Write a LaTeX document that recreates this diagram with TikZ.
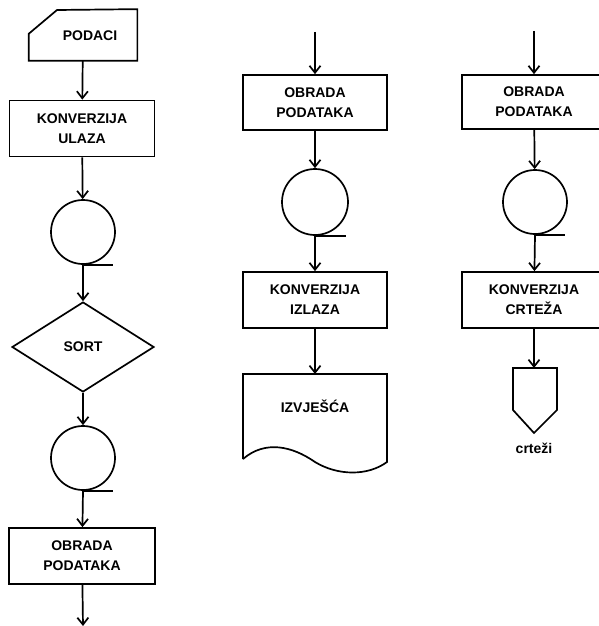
\documentclass[tikz,border=0pt]{standalone}
\usepackage{fontspec}
\setmainfont{Liberation Sans}
\usetikzlibrary{arrows.meta,shapes.geometric}

\tikzset{
  box/.style={draw, rectangle, minimum width=144pt, minimum height=56pt, align=center, inner sep=0pt},
  tape/.style={draw, circle, minimum size=64pt, inner sep=0pt},
  plain/.style={inner sep=0pt, align=center}
}

\begin{document}
\begin{tikzpicture}[x=1pt, y=-1pt, line width=1.7pt,
    >={Straight Barb[length=7pt, width=11pt]},
    font=\fontsize{14}{20}\selectfont\bfseries]
            \useasboundingbox (0,0) rectangle (599,626);

            % First column: input, sort, processing
            \node[plain, minimum width=107pt, minimum height=50pt] (podaci) at (83,35) {};
            \draw (podaci.south west) -- ++(0,-27) -- (57,10) -- (podaci.north east) -- (podaci.south east) -- cycle;
            \node[plain] (podacitxt) at (90,35.5) {PODACI};
            \node[box, minimum width=145pt] (konvul) at (82,128.5) {KONVERZIJA\\ULAZA};
            \node[tape] (trak1) at (83,232) {};
            \node[draw, diamond, minimum width=142pt, minimum height=90pt, inner sep=0pt] (sort) at (83,347) {SORT};
            \node[tape] (trak2) at (83,458) {};
            \node[box, minimum width=146pt] (obrada1) at (82,556) {OBRADA\\PODATAKA};
            \coordinate (kraj1) at (83,626);

            \draw[->] (podaci) -- (konvul);
            \draw[->] (konvul) -- (trak1);
            \draw (trak1.south) -- ++(30,0);
            \draw[->] (trak1.south) -- (sort);
            \draw[->] (sort) -- (trak2);
            \draw (trak2.south) -- ++(30,0);
            \draw[->] (trak2.south) -- (obrada1);
            \draw[->] (obrada1) -- (kraj1);

            % Second column: output report
            \coordinate (poc2) at (315,32);
            \node[box, minimum height=55pt] (obrada2) at (315,102.5) {OBRADA\\PODATAKA};
            \node[tape, minimum size=66pt] (trak3) at (315,202) {};
            \node[box] (konviz) at (315,300) {KONVERZIJA\\IZLAZA};
            \coordinate (izvtop) at (315,374);
            \draw (243,459) -- (243,374) -- (387,374) -- (387,462)
                  .. controls (368,476) and (338,476) .. (315,462)
                  .. controls (292,446) and (265,440) .. (243,459);
            \node[plain] (izvj) at (315,406) {IZVJEŠĆA};

            \draw[->] (poc2) -- (obrada2);
            \draw[->] (obrada2) -- (trak3);
            \draw (trak3.south) -- ++(31,0);
            \draw[->] (trak3.south) -- (konviz);
            \draw[->] (konviz) -- (izvtop);

            % Third column: drawings
            \coordinate (poc3) at (534,31);
            \node[box, minimum height=54pt] (obrada3) at (534,102) {OBRADA\\PODATAKA};
            \node[tape] (trak4) at (535,202) {};
            \node[box] (konvcr) at (534,300) {KONVERZIJA\\CRTEŽA};
            \coordinate (crtop) at (534,368);
            \draw (513,368) -- (557,368) -- (557,410) -- (534,433) -- (513,410) -- cycle;
            \node[plain] (crtezi) at (534,448) {crteži};

            \draw[->] (poc3) -- (obrada3);
            \draw[->] (obrada3) -- (trak4);
            \draw (trak4.south) -- ++(30,0);
            \draw[->] (trak4.south) -- (konvcr);
            \draw[->] (konvcr) -- (crtop);
        \end{tikzpicture}
\end{document}
